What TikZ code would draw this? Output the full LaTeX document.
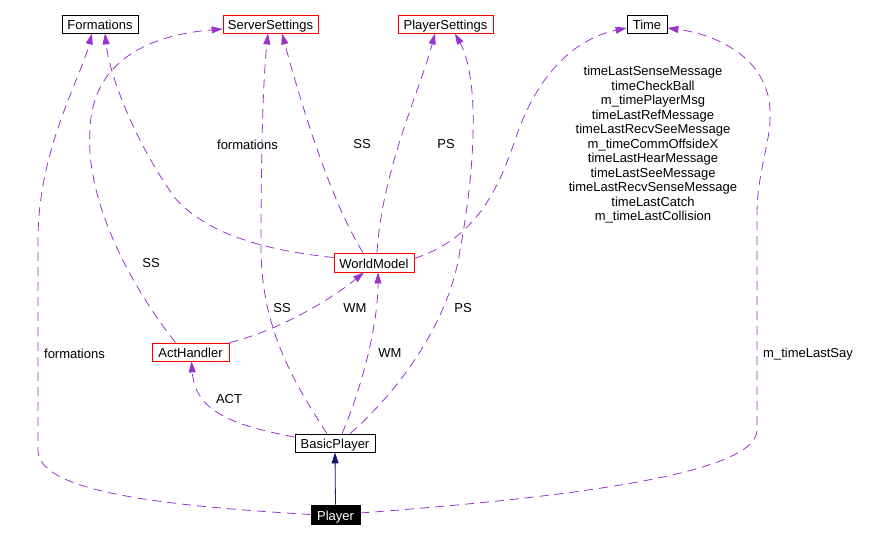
\documentclass[tikz,border=0pt]{standalone}
\usepackage{fontspec}
\setmainfont{Liberation Sans}
\usetikzlibrary{arrows.meta,calc}
\definecolor{edgec}{HTML}{9A32CD}
\definecolor{inhc}{HTML}{191970}
\begin{document}
\begin{tikzpicture}[x=1pt,y=-1pt,
  cls/.style={draw=black, line width=0.8pt, minimum height=18pt, inner sep=0pt, text height=11.5pt, text depth=0.5pt, font=\fontsize{13}{14.5}\selectfont},
  redcls/.style={cls, draw=red},
  lbl/.style={font=\fontsize{13}{14.5}\selectfont, inner sep=0pt, align=center},
  uses/.style={draw=edgec, line width=0.8pt, dash pattern=on 9pt off 6pt, -{Triangle[length=11pt,width=7pt]}},
  inh/.style={draw=inhc, line width=0.8pt, -{Triangle[length=11pt,width=7pt]}}
]
\useasboundingbox (0,0) rectangle (873,539);

\node[cls, minimum width=76pt] (Formations) at (100,24) {Formations};
\node[redcls, minimum width=95pt] (ServerSettings) at (270.5,24) {ServerSettings};
\node[redcls, minimum width=95pt] (PlayerSettings) at (445.5,24) {PlayerSettings};
\node[cls, minimum width=40pt] (Time) at (647,24) {Time};
\node[redcls, minimum width=80pt, minimum height=19pt] (WorldModel) at (374,262.5) {WorldModel};
\node[redcls, minimum width=77pt] (ActHandler) at (190.5,352) {ActHandler};
\node[cls, minimum width=80pt] (BasicPlayer) at (335,443) {BasicPlayer};
\node[cls, fill=black, text=white, minimum width=49pt, minimum height=19pt] (Player) at (335.5,514.5) {Player};

% labels
\node[lbl] (l1) at (247.5,144.5) {formations};
\node[lbl] (l2) at (362,144.5) {SS};
\node[lbl] (l3) at (446,144.5) {PS};
\node[lbl] (l4) at (653,145) {timeLastSenseMessage\\timeCheckBall\\m\_timePlayerMsg\\timeLastRefMessage\\timeLastRecvSeeMessage\\m\_timeCommOffsideX\\timeLastHearMessage\\timeLastSeeMessage\\timeLastRecvSenseMessage\\timeLastCatch\\m\_timeLastCollision};
\node[lbl] (l5) at (151,263.5) {SS};
\node[lbl] (l6) at (74.5,353.5) {formations};
\node[lbl] (l7) at (282,308.5) {SS};
\node[lbl] (l8) at (355,308.5) {WM};
\node[lbl] (l9) at (463,308.5) {PS};
\node[lbl] (l10) at (390,353.5) {WM};
\node[lbl] (l11) at (229,399.5) {ACT};
\node[lbl] (l12) at (808,354) {m\_timeLastSay};

% edges
\draw[uses] (Player.west) .. controls (150,505) and (38,490) .. (38,450) -- (38,240) .. controls (38,150) and (80,80) .. ($(Formations.south)+(-8,0)$);
\draw[uses] ($(WorldModel.west)+(0,-5)$) .. controls (260,250) and (205,232) .. (175,198) .. controls (140,150) and (110,80) .. ($(Formations.south)+(5,0)$);
\draw[uses] ($(ActHandler.north)+(-15,0)$) .. controls (130,285) and (85,200) .. (90,130) .. controls (92,60) and (150,35) .. ($(ServerSettings.west)+(0,5)$);
\draw[uses] ($(BasicPlayer.north)+(-8,0)$) .. controls (285,370) and (262,320) .. (261,250) .. controls (261,150) and (263,80) .. ($(ServerSettings.south)+(-2.5,0)$);
\draw[uses] ($(WorldModel.north)+(-11,0)$) .. controls (330,200) and (300,100) .. ($(ServerSettings.south)+(11.5,0)$);
\draw[uses] ($(WorldModel.north)+(3,0)$) .. controls (382,170) and (420,90) .. ($(PlayerSettings.south)+(-10.5,0)$);
\draw[uses] ($(BasicPlayer.north)+(15,0)$) .. controls (400,390) and (450,320) .. (460,250) .. controls (475,170) and (480,80) .. ($(PlayerSettings.south)+(9.5,0)$);
\draw[uses] (ActHandler.north east) .. controls (280,330) and (330,300) .. ($(WorldModel.south)+(-10,0)$);
\draw[uses] ($(BasicPlayer.north)+(7,0)$) .. controls (365,380) and (378,320) .. ($(WorldModel.south)+(4,0)$);
\draw[uses] ($(BasicPlayer.west)+(0,-6)$) .. controls (230,425) and (195,410) .. ($(ActHandler.south)+(1,0)$);
\draw[uses] ($(WorldModel.east)+(0,-4)$) .. controls (470,240) and (495,200) .. (515,140) .. controls (535,80) and (570,40) .. ($(Time.west)+(0,4)$);
\draw[uses] ($(Player.east)+(0,-1.5)$) .. controls (560,498) and (757,475) .. (757,430) -- (757,215) .. controls (757,170) and (772,140) .. (770,110) .. controls (768,60) and (720,35) .. ($(Time.east)+(0,4)$);
\draw[inh] (Player.north) -- (BasicPlayer.south);
\end{tikzpicture}
\end{document}
